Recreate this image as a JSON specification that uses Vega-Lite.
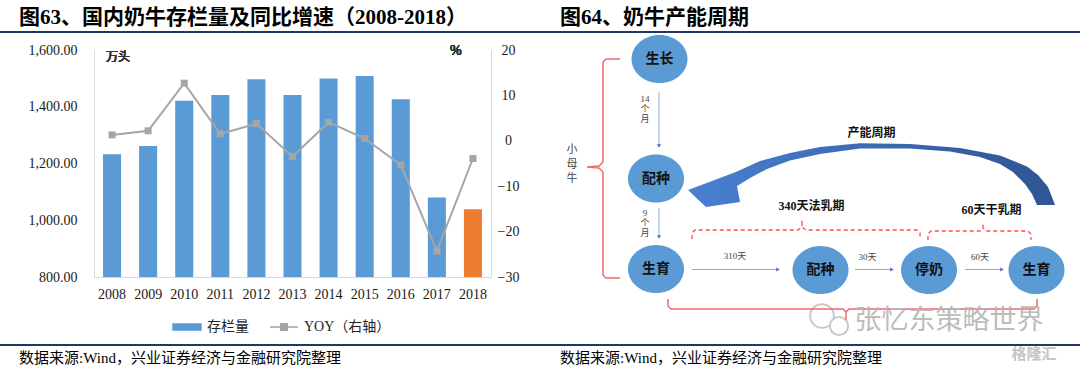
{
  "$schema": "https://vega.github.io/schema/vega-lite/v6.json",
  "width": 1080,
  "height": 370,
  "autosize": {"type": "none"},
  "padding": 0,
  "background": "white",
  "config": {
    "view": {"stroke": null},
    "axis": {"grid": false, "ticks": false, "domainColor": "#d9d9d9", "labelFont": "Liberation Serif", "labelFontSize": 14, "labelColor": "#1a1a1a"}
  },
  "datasets": {
    "dairy": [
      {"year": "2008", "stock": 1233, "yoy": 1.3},
      {"year": "2009", "stock": 1262, "yoy": 2.2},
      {"year": "2010", "stock": 1421, "yoy": 12.7},
      {"year": "2011", "stock": 1441, "yoy": 1.5},
      {"year": "2012", "stock": 1497, "yoy": 3.8},
      {"year": "2013", "stock": 1441, "yoy": -3.5},
      {"year": "2014", "stock": 1500, "yoy": 4.1},
      {"year": "2015", "stock": 1508, "yoy": 0.5},
      {"year": "2016", "stock": 1426, "yoy": -5.3},
      {"year": "2017", "stock": 1080, "yoy": -24.3},
      {"year": "2018", "stock": 1039, "yoy": -3.9}
    ],
    "captions": [
      {"panel": "left", "kind": "title", "text": "图63、国内奶牛存栏量及同比增速（2008-2018）"},
      {"panel": "right", "kind": "title", "text": "图64、奶牛产能周期"},
      {"panel": "left", "kind": "source", "text": "数据来源:Wind，兴业证券经济与金融研究院整理"},
      {"panel": "right", "kind": "source", "text": "数据来源:Wind，兴业证券经济与金融研究院整理"}
    ],
    "rules": [{"kind": "top"}, {"kind": "bottom"}],
    "nodes": [
      {"label": "生长", "x": 23.9, "y": 11.8},
      {"label": "配种", "x": 23.2, "y": 35.7},
      {"label": "生育", "x": 23.2, "y": 53.8},
      {"label": "配种", "x": 56.1, "y": 54},
      {"label": "停奶", "x": 77.8, "y": 54},
      {"label": "生育", "x": 99.3, "y": 54}
    ],
    "arrows": [
      {"x": 23.8, "y": 18.4, "x2": 23.8, "y2": 29.2, "dir": "down"},
      {"x": 23.8, "y": 41.6, "x2": 23.8, "y2": 47.4, "dir": "down"},
      {"x": 30.4, "y": 53.9, "x2": 47.6, "y2": 53.9, "dir": "right"},
      {"x": 63, "y": 53.9, "x2": 70.4, "y2": 53.9, "dir": "right"},
      {"x": 85, "y": 53.9, "x2": 92.4, "y2": 53.9, "dir": "right"}
    ],
    "stepLabels": [
      {"text": "14\n个\n月", "x": 21, "y": 19.8},
      {"text": "9\n个\n月", "x": 21, "y": 42.5},
      {"text": "310天", "x": 39, "y": 51.2},
      {"text": "30天", "x": 65.5, "y": 51.4},
      {"text": "60天", "x": 88, "y": 51.4}
    ],
    "sideLabels": [
      {"text": "小", "x": 6.4, "y": 30},
      {"text": "母", "x": 6.4, "y": 32.9},
      {"text": "牛", "x": 6.4, "y": 35.8}
    ],
    "phaseLabels": [
      {"text": "340天法乳期", "x": 54.3, "y": 41.2},
      {"text": "60天干乳期", "x": 90.3, "y": 41.9},
      {"text": "产能周期", "x": 66.3, "y": 26.5}
    ],
    "cycleArrow": [{"name": "产能周期", "x": 66, "y": 35}],
    "solidBrackets": [
      {"g": "小母牛", "o": 1, "x": 16, "y": 11.8},
      {"g": "小母牛", "o": 2, "x": 13.2, "y": 11.8},
      {"g": "小母牛", "o": 3, "x": 12.6, "y": 12.4},
      {"g": "小母牛", "o": 4, "x": 12.6, "y": 32.4},
      {"g": "小母牛", "o": 5, "x": 11.8, "y": 33.2},
      {"g": "小母牛", "o": 6, "x": 9.4, "y": 33.4},
      {"g": "小母牛", "o": 7, "x": 11.8, "y": 33.6},
      {"g": "小母牛", "o": 8, "x": 12.6, "y": 34.4},
      {"g": "小母牛", "o": 9, "x": 12.6, "y": 55},
      {"g": "小母牛", "o": 10, "x": 13.2, "y": 55.6},
      {"g": "小母牛", "o": 11, "x": 16, "y": 55.6},
      {"g": "成母牛", "o": 1, "x": 25.6, "y": 59.8},
      {"g": "成母牛", "o": 2, "x": 25.6, "y": 61.2},
      {"g": "成母牛", "o": 3, "x": 26.2, "y": 61.8},
      {"g": "成母牛", "o": 4, "x": 60.6, "y": 61.8},
      {"g": "成母牛", "o": 5, "x": 61.2, "y": 62.4},
      {"g": "成母牛", "o": 6, "x": 61.2, "y": 64},
      {"g": "成母牛", "o": 7, "x": 61.2, "y": 62.4},
      {"g": "成母牛", "o": 8, "x": 61.8, "y": 61.8},
      {"g": "成母牛", "o": 9, "x": 98.8, "y": 61.8},
      {"g": "成母牛", "o": 10, "x": 99.4, "y": 61.2},
      {"g": "成母牛", "o": 11, "x": 99.4, "y": 59.8}
    ],
    "dashBrackets": [
      {"g": "法乳期", "o": 1, "x": 30.4, "y": 47.8},
      {"g": "法乳期", "o": 2, "x": 30.4, "y": 46.6},
      {"g": "法乳期", "o": 3, "x": 31, "y": 46},
      {"g": "法乳期", "o": 4, "x": 51.6, "y": 46},
      {"g": "法乳期", "o": 5, "x": 52.4, "y": 45.4},
      {"g": "法乳期", "o": 6, "x": 52.4, "y": 44},
      {"g": "法乳期", "o": 7, "x": 52.4, "y": 45.4},
      {"g": "法乳期", "o": 8, "x": 53.2, "y": 46},
      {"g": "法乳期", "o": 9, "x": 75.4, "y": 46},
      {"g": "法乳期", "o": 10, "x": 76, "y": 46.6},
      {"g": "法乳期", "o": 11, "x": 76, "y": 47.4},
      {"g": "干乳期", "o": 1, "x": 77.6, "y": 48},
      {"g": "干乳期", "o": 2, "x": 77.6, "y": 46.8},
      {"g": "干乳期", "o": 3, "x": 78.2, "y": 46.2},
      {"g": "干乳期", "o": 4, "x": 88, "y": 46.2},
      {"g": "干乳期", "o": 5, "x": 88.6, "y": 45.6},
      {"g": "干乳期", "o": 6, "x": 88.6, "y": 44.7},
      {"g": "干乳期", "o": 7, "x": 88.6, "y": 45.6},
      {"g": "干乳期", "o": 8, "x": 89.2, "y": 46.2},
      {"g": "干乳期", "o": 9, "x": 97.6, "y": 46.2},
      {"g": "干乳期", "o": 10, "x": 98.2, "y": 46.8},
      {"g": "干乳期", "o": 11, "x": 98.2, "y": 48}
    ],
    "bubbles": [
      {"part": "big", "x": 56.4, "y": 63.2},
      {"part": "small", "x": 59.8, "y": 65.2}
    ],
    "watermark": [{"text": "张忆东策略世界", "x": 81.8, "y": 64.2}],
    "logo": [{"text": "格隆汇", "x": 98.8, "y": 70.8}]
  },
  "layer": [
    {
      "data": {"name": "captions"},
      "encoding": {
        "x": {"field": "panel", "type": "nominal", "scale": {"type": "point", "domain": ["left", "right"], "range": [19, 560], "padding": 0}, "axis": null},
        "y": {"field": "kind", "type": "nominal", "scale": {"type": "point", "domain": ["title", "source"], "range": [18, 358], "padding": 0}, "axis": null}
      },
      "layer": [
        {
          "transform": [{"filter": "datum.kind === 'title'"}],
          "mark": {"type": "text", "align": "left", "baseline": "middle", "font": "Liberation Serif, Noto Sans CJK SC", "fontSize": 21, "fontWeight": "bold", "color": "#000000"},
          "encoding": {"text": {"field": "text"}}
        },
        {
          "transform": [{"filter": "datum.kind === 'source'"}],
          "mark": {"type": "text", "align": "left", "baseline": "middle", "font": "Liberation Serif, Noto Sans CJK SC", "fontSize": 15, "color": "#000000"},
          "encoding": {"text": {"field": "text"}}
        }
      ]
    },
    {
      "data": {"name": "rules"},
      "mark": {"type": "rule", "color": "#1f3864", "strokeWidth": 2},
      "encoding": {
        "y": {"field": "kind", "type": "nominal", "scale": {"type": "point", "domain": ["top", "bottom"], "range": [32, 345], "padding": 0}, "axis": null}
      }
    },
    {
      "data": {"name": "dairy"},
      "layer": [
        {
          "layer": [
            {
              "mark": {"type": "bar"},
              "encoding": {
                "x": {"field": "year", "type": "nominal", "title": null, "scale": {"range": [94, 491], "paddingInner": 0.5, "paddingOuter": 0.25}, "axis": {"orient": "bottom", "offset": -93, "labelAngle": 0, "labelPadding": 10}},
                "y": {"field": "stock", "type": "quantitative", "title": null, "scale": {"domain": [800, 1600], "range": [277, 50], "zero": false, "nice": false}, "axis": {"orient": "left", "offset": -94, "values": [800, 1000, 1200, 1400, 1600], "format": ",.2f", "labelPadding": 17}},
                "y2": {"datum": 800},
                "color": {
                  "condition": {"test": "datum.year === '2018'", "value": "#ed7d31"},
                  "datum": "存栏量",
                  "scale": {"domain": ["存栏量", "YOY（右轴）"], "range": ["#5b9bd5", "#a5a5a5"]},
                  "legend": {
                    "orient": "none", "legendX": 172, "legendY": 312, "direction": "horizontal", "title": null,
                    "labelFont": "Liberation Serif, Noto Sans CJK SC", "labelFontSize": 14, "labelColor": "#222222",
                    "symbolSize": 784, "columnPadding": 18, "labelOffset": 5,
                    "encode": {
                      "symbols": {
                        "update": {
                          "shape": {"signal": "datum.value === '存栏量' ? 'M-1,-0.22H1V0.22H-1Z' : 'M-1,0H1M-0.24,-0.24H0.24V0.24H-0.24Z'"},
                          "fill": {"signal": "datum.value === '存栏量' ? '#5b9bd5' : '#a5a5a5'"},
                          "stroke": {"signal": "datum.value === '存栏量' ? '#5b9bd5' : '#a5a5a5'"},
                          "strokeWidth": {"value": 1.5},
                          "opacity": {"value": 1}
                        }
                      }
                    }
                  }
                }
              }
            },
            {
              "mark": {"type": "text", "text": "万头", "font": "Noto Sans CJK SC", "fontSize": 12, "color": "#333333", "dx": 6},
              "encoding": {
                "x": {"datum": "2008", "type": "nominal"},
                "y": {"datum": 1575, "type": "quantitative"}
              }
            }
          ]
        },
        {
          "layer": [
            {
              "mark": {"type": "line", "strokeWidth": 2},
              "encoding": {
                "x": {"field": "year", "type": "nominal"},
                "y": {"field": "yoy", "type": "quantitative", "title": null, "scale": {"domain": [-30, 20], "range": [277, 50], "zero": false, "nice": false}, "axis": {"orient": "right", "offset": -589, "values": [-30, -20, -10, 0, 10, 20], "labelAlign": "center", "labelPadding": 17}},
                "color": {"datum": "YOY（右轴）"}
              }
            },
            {
              "mark": {"type": "point", "shape": "square", "filled": true, "size": 49, "opacity": 1},
              "encoding": {
                "x": {"field": "year", "type": "nominal"},
                "y": {"field": "yoy", "type": "quantitative"},
                "color": {"datum": "YOY（右轴）"}
              }
            },
            {
              "mark": {"type": "text", "text": "%", "font": "Liberation Serif", "fontSize": 14, "color": "#333333", "dx": 19, "dy": 1},
              "encoding": {
                "x": {"datum": "2017", "type": "nominal"},
                "y": {"datum": 20, "type": "quantitative"}
              }
            }
          ]
        }
      ],
      "resolve": {"scale": {"y": "independent"}}
    },
    {
      "encoding": {
        "x": {"field": "x", "type": "quantitative", "scale": {"domain": [0, 108], "range": [540, 1080], "zero": false, "nice": false}, "axis": null},
        "y": {"field": "y", "type": "quantitative", "scale": {"domain": [0, 74], "range": [0, 370], "zero": false, "nice": false}, "axis": null}
      },
      "layer": [
        {
          "data": {"name": "bubbles"},
          "mark": {"type": "point", "shape": "circle", "filled": true, "fill": "#ffffff", "stroke": "#c8c8c8", "strokeWidth": 2, "opacity": 1},
          "encoding": {"size": {"field": "part", "type": "nominal", "scale": {"domain": ["big", "small"], "range": [560, 330]}, "legend": null}}
        },
        {
          "data": {"name": "solidBrackets"},
          "mark": {"type": "line", "color": "#f2676b", "strokeWidth": 1.5},
          "encoding": {"detail": {"field": "g"}, "order": {"field": "o", "type": "quantitative"}}
        },
        {
          "data": {"name": "dashBrackets"},
          "mark": {"type": "line", "color": "#ff4d4d", "strokeWidth": 1.3, "strokeDash": [4, 3]},
          "encoding": {"detail": {"field": "g"}, "order": {"field": "o", "type": "quantitative"}}
        },
        {
          "data": {"name": "arrows"},
          "mark": {"type": "rule", "color": "#8faadc", "strokeWidth": 1},
          "encoding": {"x2": {"field": "x2"}, "y2": {"field": "y2"}}
        },
        {
          "data": {"name": "arrows"},
          "mark": {"type": "point", "filled": true, "color": "#4472c4", "size": 18, "opacity": 1},
          "encoding": {
            "x": {"field": "x2", "type": "quantitative"},
            "y": {"field": "y2", "type": "quantitative"},
            "shape": {"field": "dir", "type": "nominal", "scale": {"domain": ["down", "right"], "range": ["triangle-down", "triangle-right"]}, "legend": null}
          }
        },
        {
          "data": {"name": "cycleArrow"},
          "mark": {
            "type": "point", "filled": true, "size": 4, "opacity": 1, "strokeWidth": 0,
            "shape": "M185,30 L178,12 L168,0 L157,-8.5 L130,-19.5 L90,-27 L40,-31 L-10,-31.7 L-50,-28 L-80,-22 L-110,-14 L-133,-3.5 L-150,3 L-182,15 L-164,32 L-130,27 L-133,11 L-120,3 L-103,-6 L-80,-14.5 L-50,-21 L-10,-26.5 L40,-26.5 L80,-23.5 L110,-18 L130,-11 L143,-3 L155,9 L162,19 L167,30 Z",
            "color": {"gradient": "linear", "x1": 0, "y1": 0, "x2": 1, "y2": 0, "stops": [{"offset": 0, "color": "#4a7fd2"}, {"offset": 1, "color": "#2e5593"}]}
          }
        },
        {
          "data": {"name": "nodes"},
          "mark": {"type": "point", "filled": true, "color": "#5b9bd5", "opacity": 1, "size": 3136, "shape": "M-1,0A1,0.86,0,1,1,1,0A1,0.86,0,1,1,-1,0Z"}
        },
        {
          "data": {"name": "nodes"},
          "mark": {"type": "text", "font": "Noto Sans CJK SC", "fontSize": 14, "fontWeight": "bold", "color": "#111111", "baseline": "middle"},
          "encoding": {"text": {"field": "label"}}
        },
        {
          "data": {"name": "stepLabels"},
          "mark": {"type": "text", "font": "Liberation Serif, Noto Sans CJK SC", "fontSize": 9, "lineBreak": "\n", "lineHeight": 10, "color": "#444444", "baseline": "middle"},
          "encoding": {"text": {"field": "text"}}
        },
        {
          "data": {"name": "sideLabels"},
          "mark": {"type": "text", "font": "Noto Sans CJK SC", "fontSize": 11, "color": "#444444", "baseline": "middle"},
          "encoding": {"text": {"field": "text"}}
        },
        {
          "data": {"name": "phaseLabels"},
          "mark": {"type": "text", "font": "Liberation Serif, Noto Sans CJK SC", "fontSize": 12, "fontWeight": "bold", "color": "#111111", "baseline": "middle"},
          "encoding": {"text": {"field": "text"}}
        },
        {
          "data": {"name": "watermark"},
          "mark": {"type": "text", "font": "Noto Sans CJK SC", "fontSize": 27, "color": "#b5b5b5", "baseline": "middle", "opacity": 0.9},
          "encoding": {"text": {"field": "text"}}
        },
        {
          "data": {"name": "logo"},
          "mark": {"type": "text", "font": "Noto Sans CJK SC", "fontSize": 15, "fontWeight": "bold", "color": "#c4c4c4", "baseline": "middle"},
          "encoding": {"text": {"field": "text"}}
        }
      ]
    }
  ],
  "resolve": {"scale": {"x": "independent", "y": "independent", "size": "independent", "shape": "independent"}}
}
